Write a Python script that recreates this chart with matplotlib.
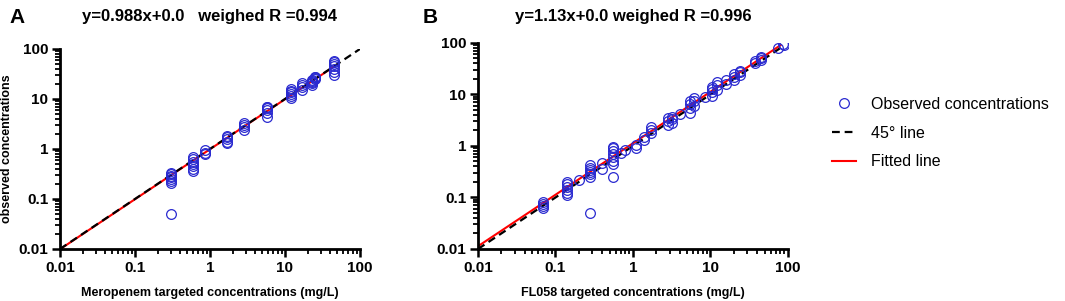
import numpy as np
import matplotlib.pyplot as plt
from matplotlib.ticker import LogLocator, NullFormatter, FixedLocator, FixedFormatter

plt.rcParams['font.family'] = ['Liberation Sans', 'DejaVu Sans']

# --- dane ---
# panel A: Meropenem
mero_x = [0.3] * 8 + [0.6] * 7 + [0.86] * 3 + [1.7] * 5 + [2.8] * 4 + [5.8] * 6 \
    + [12] * 6 + [17] * 4 + [23] * 5 + [25] * 4 + [45] * 7
mero_y = [0.05, 0.21, 0.23, 0.25, 0.27, 0.29, 0.31, 0.33,
          0.36, 0.40, 0.45, 0.50, 0.55, 0.62, 0.70,
          0.80, 0.85, 0.95,
          1.30, 1.40, 1.60, 1.75, 1.85,
          2.40, 2.70, 3.00, 3.30,
          4.40, 5.20, 6.00, 6.50, 6.80, 7.00,
          10.5, 11.5, 12.5, 13.5, 14.5, 15.5,
          15, 17, 19, 21,
          19, 21, 22, 23, 24,
          25, 26, 27, 28,
          30, 35, 40, 45, 50, 55, 58]
mero_slope = 0.988
mero_title = "y=0.988x+0.0   weighed R =0.994"

# panel B: FL058
fl_x = [0.07] * 4 + [0.14] * 6 + [0.2] + [0.28] * 7 + [0.4] * 2 + [0.56] * 8 \
    + [0.7, 0.8, 1.1, 1.1] + [1.4] * 2 + [1.7] * 3 + [2.8] * 3 + [3.2] * 3 + [4.0] \
    + [5.5] * 4 + [6.2] * 3 + [8.5] + [10.5] * 4 + [12] * 3 + [16] * 2 + [20] * 3 \
    + [24] * 3 + [38] * 2 + [45] * 3 + [75, 85, 90]
fl_y = [0.062, 0.068, 0.075, 0.080,
        0.11, 0.12, 0.14, 0.16, 0.18, 0.20,
        0.22,
        0.05, 0.25, 0.28, 0.31, 0.34, 0.38, 0.42,
        0.35, 0.46,
        0.25, 0.45, 0.50, 0.60, 0.70, 0.80, 0.90, 0.95,
        0.74, 0.85, 0.93, 1.05,
        1.30, 1.50,
        1.80, 2.00, 2.30,
        2.60, 3.10, 3.50,
        2.80, 3.30, 3.60, 4.20,
        4.40, 5.50, 6.50, 7.50,
        6.00, 7.50, 8.50, 9.00,
        9.50, 11.0, 12.5, 14.0,
        12.0, 15.0, 17.5,
        16.0, 19.0,
        19.0, 22.0, 25.0,
        24.0, 27.0, 29.0,
        40.0, 44.0,
        46.0, 50.0, 53.0,
        80.0, 95.0, 92.0]
fl_slope = 1.13
fl_title = "y=1.13x+0.0 weighed R =0.996"

MARKER_COLOR = "#2a2ad0"
FIT_COLOR = "#ff0000"

fig = plt.figure(figsize=(10.65, 3.01), dpi=100)
ax_a = fig.add_axes([0.0563, 0.1728, 0.2817, 0.6645])
ax_b = fig.add_axes([0.4488, 0.1728, 0.2911, 0.6844])

ticks = [0.01, 0.1, 1, 10, 100]
tick_labels = ["0.01", "0.1", "1", "10", "100"]


def draw_panel(ax, xs, ys, slope, title, xlabel, ident_end, fit_end, title_pad):
    xl = np.array([0.01, ident_end])
    ax.plot(xl, xl, color="black", linestyle=(0, (3.5, 2.2)), linewidth=1.6,
            zorder=3, label="45\u00b0 line")
    xf = np.array([0.01, fit_end])
    ax.plot(xf, slope * xf, color=FIT_COLOR, linewidth=1.5, zorder=2,
            label="Fitted line")
    ax.plot(xs, ys, linestyle="none", marker="o", markersize=7,
            markerfacecolor="none", markeredgecolor=MARKER_COLOR,
            markeredgewidth=0.9, zorder=4, label="Observed concentrations")
    ax.set_xscale("log")
    ax.set_yscale("log")
    ax.set_xlim(0.01, 100)
    ax.set_ylim(0.01, 100)
    for axis in (ax.xaxis, ax.yaxis):
        axis.set_major_locator(FixedLocator(ticks))
        axis.set_major_formatter(FixedFormatter(tick_labels))
        axis.set_minor_locator(LogLocator(base=10, subs=np.arange(2, 10)))
        axis.set_minor_formatter(NullFormatter())
    ax.tick_params(which="major", length=6, width=1.8, labelsize=11, pad=2.5)
    ax.tick_params(which="minor", length=3.5, width=1.3)
    for lab in ax.get_xticklabels() + ax.get_yticklabels():
        lab.set_fontweight("bold")
    for side in ("top", "right"):
        ax.spines[side].set_visible(False)
    for side in ("left", "bottom"):
        ax.spines[side].set_linewidth(2)
    ax.set_title(title, fontsize=12, fontweight="bold", pad=title_pad)
    ax.set_xlabel(xlabel, fontsize=9, fontweight="bold", labelpad=9)
    ax.patch.set_alpha(0)


draw_panel(ax_a, mero_x, mero_y, mero_slope, mero_title,
           "Meropenem targeted concentrations (mg/L)", 100, 45, 20)
ax_a.set_ylabel("observed concentrations", fontsize=9, fontweight="bold")
ax_a.yaxis.set_label_coords(-0.158, 0.5)

draw_panel(ax_b, fl_x, fl_y, fl_slope, fl_title,
           "FL058 targeted concentrations (mg/L)", 80, 80, 15.5)

fig.text(0.009, 0.925, "A", fontsize=15, fontweight="bold")
fig.text(0.397, 0.925, "B", fontsize=15, fontweight="bold")

handles, labels = ax_b.get_legend_handles_labels()
order = [2, 0, 1]
fig.legend([handles[i] for i in order], [labels[i] for i in order],
           loc="center left", bbox_to_anchor=(0.768, 0.558), frameon=False,
           fontsize=11.5, handlelength=1.5, handletextpad=0.9, labelspacing=0.85)

plt.savefig("out.png", dpi=100)
